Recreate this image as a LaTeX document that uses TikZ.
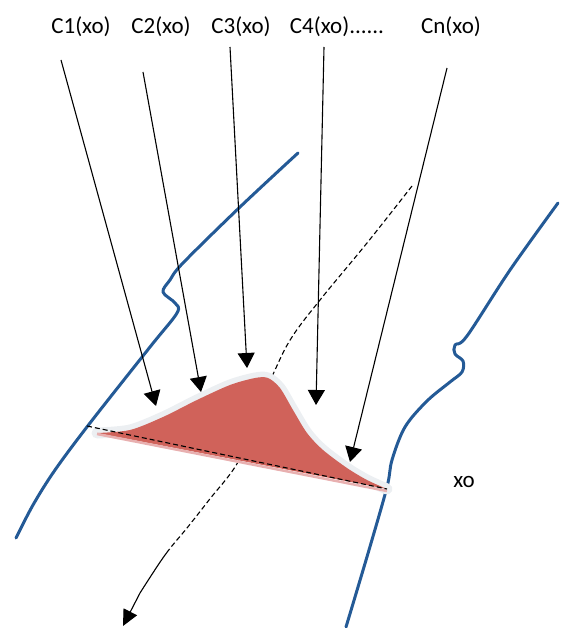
\documentclass[tikz,border=0pt]{standalone}
\usepackage{fontspec}
\setmainfont{Carlito}
\usetikzlibrary{arrows.meta}
\definecolor{riverblue}{RGB}{36,90,150}
\definecolor{plume}{RGB}{208,98,90}
\definecolor{plumeedge}{RGB}{232,176,176}
\definecolor{haloc}{RGB}{236,239,242}
\begin{document}
\begin{tikzpicture}[x=1pt,y=-1pt,
  lbl/.style={font=\fontsize{23}{26}\selectfont, inner sep=0pt},
  ray/.style={line width=1.1pt, -{Triangle[width=17pt,length=15pt]}},
  river/.style={line width=3pt, draw=riverblue, line cap=round, line join=round},
  flowline/.style={line width=1.1pt, dash pattern=on 5pt off 3pt},
  halo/.style={line width=11pt, draw=haloc, line cap=round, line join=round}]
\useasboundingbox (0,0) rectangle (567,628);

% labels
\node[lbl] (c1) at (81,27) {C1(xo)};
\node[lbl] (c2) at (161,27) {C2(xo)};
\node[lbl] (c3) at (241,27) {C3(xo)};
\node[lbl] (c4) at (337,27) {C4(xo)......};
\node[lbl] (cn) at (451,27) {Cn(xo)};
\node[lbl] (xo) at (464,482) {xo};

% ray end points
\coordinate (s1) at (61,60);   \coordinate (t1) at (156,406);
\coordinate (s2) at (143,72);  \coordinate (t2) at (201,392);
\coordinate (s3) at (230,47);  \coordinate (t3) at (247,368);
\coordinate (s4) at (324,47);  \coordinate (t4) at (316,405);
\coordinate (sn) at (447,68);  \coordinate (tn) at (350,462);
\coordinate (fs) at (412,186); \coordinate (fe) at (140,593); \coordinate (ft) at (123,626);

% river banks
\draw[river] plot[smooth, tension=0.55] coordinates {
  (298,153) (240,207) (183,263) (170,280) (163,292) (175,303)
  (177,313) (150,347) (90,423) (55,470) (33,505) (16,538)};
\draw[river] plot[smooth, tension=0.55] coordinates {
  (558,203) (510,270) (467,336) (455,345) (455,354) (463,361)
  (462,372) (450,382) (427,401) (405,427) (392,460) (387,487)
  (369,550) (346,627)};

% flow line: dashed, solid near its end (same curve, split by clipping)
\begin{scope}
  \clip (0,0) rectangle (567,553);
  \draw[flowline] plot[smooth, tension=0.6] coordinates {
    (fs) (367,243) (320,300) (292,337) (275,370)
    (256,415) (238,462) (209,500) (187,528) (165,555) (fe)};
\end{scope}
\begin{scope}
  \clip (0,553) rectangle (567,640);
  \draw[line width=1.1pt] plot[smooth, tension=0.6] coordinates {
    (fs) (367,243) (320,300) (292,337) (275,370)
    (256,415) (238,462) (209,500) (187,528) (165,555) (fe)};
\end{scope}
\draw[line width=1.1pt, -{Triangle[width=15pt,length=16pt]}] (fe) -- (ft);

% plume halo and fill
\draw[halo] plot[smooth, tension=0.5] coordinates {
  (97,433) (130,430) (163,417) (197,400) (230,385) (255,378) (268,378)
  (280,388) (293,410) (307,433) (323,450) (347,468) (367,480) (387,489)};
\fill[plume] plot[smooth, tension=0.5] coordinates {
  (97,433) (130,430) (163,417) (197,400) (230,385) (255,378) (268,378)
  (280,388) (293,410) (307,433) (323,450) (347,468) (367,480) (387,489)} -- cycle;
\draw[plumeedge, line width=2.5pt] (97,434) -- (387,491);
\draw[flowline] (87,426) -- (387,489);

% rays
\draw[ray] (s1) -- (t1);
\draw[ray] (s2) -- (t2);
\draw[ray] (s3) -- (t3);
\draw[ray] (s4) -- (t4);
\draw[ray] (sn) -- (tn);
\end{tikzpicture}
\end{document}
